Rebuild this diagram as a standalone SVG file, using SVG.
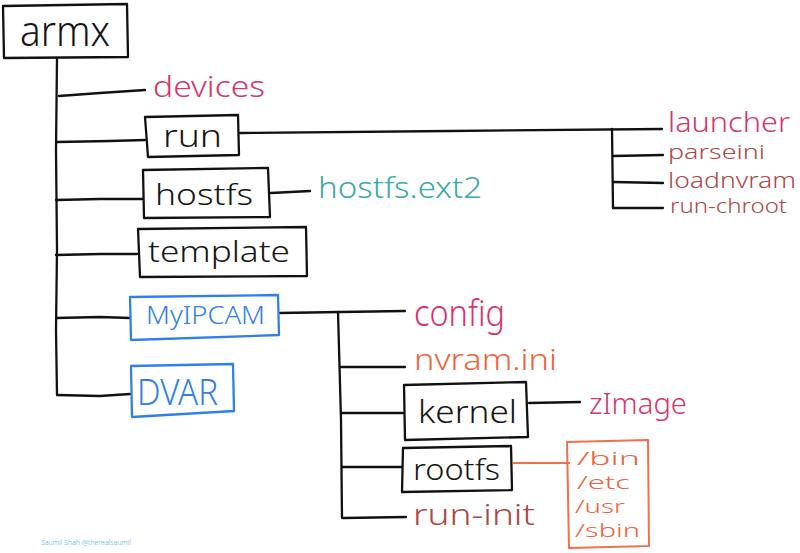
<svg xmlns="http://www.w3.org/2000/svg" width="800" height="553" viewBox="0 0 800 553">
<style>
.ln{fill:none;stroke:#111;stroke-width:2.3;stroke-linecap:round;stroke-linejoin:round}
.bx{fill:none;stroke:#111;stroke-width:2.3;stroke-linejoin:round}
.bb{fill:none;stroke:#2f7fef;stroke-width:2.3;stroke-linejoin:round}
.ob{fill:none;stroke:#f2704f;stroke-width:2;stroke-linejoin:round}
.t{font-family:"Noto Sans","Liberation Sans",sans-serif;font-weight:300}
.k{fill:#161616}
.pink{fill:#d8356a}
.brn{fill:#b04646}
.teal{fill:#3aaaa9}
.blue{fill:#2f7fef}
.orn{fill:#f2623f}
</style>
<rect width="800" height="553" fill="#fff"/>
<g id="connectors">
<path class="ln" d="M57,58 L56,150 L57,250 L56,330 L57,395"/>
<path class="ln" d="M59,96 L100,93 L145,90"/>
<path class="ln" d="M57,142 L110,141 L145,140"/>
<path class="ln" d="M56,200 L100,199 L143,199"/>
<path class="ln" d="M56,255 L100,254 L137,254"/>
<path class="ln" d="M56,318 L100,317 L130,318"/>
<path class="ln" d="M57,395 L100,396 L130,394"/>
<path class="ln" d="M240,133 L450,131 L662,129"/>
<path class="ln" d="M612,129 L613,208"/>
<path class="ln" d="M613,156 L663,155"/>
<path class="ln" d="M614,182 L663,183"/>
<path class="ln" d="M613,208 L663,208"/>
<path class="ln" d="M271,193 L310,191"/>
<path class="ln" d="M280,313 L340,312 L405,311"/>
<path class="ln" d="M338,312 L341,420 L342,518"/>
<path class="ln" d="M340,367 L405,367"/>
<path class="ln" d="M341,413 L403,413"/>
<path class="ln" d="M342,467 L402,467"/>
<path class="ln" d="M343,518 L406,517"/>
<path class="ln" d="M529,403 L580,402"/>
<path d="M513,463 L570,463" fill="none" stroke="#f2704f" stroke-width="2"/>
</g>
<g id="armx">
<path class="bx" d="M3,6 L127,4 L128,57 L4,58 Z"/>
<text class="t k" x="20" y="46" font-size="42" textLength="90" lengthAdjust="spacingAndGlyphs">armx</text>
</g>
<g id="devices">
<text class="t pink" x="153" y="97" font-size="30" textLength="112" lengthAdjust="spacingAndGlyphs">devices</text>
</g>
<g id="run">
<path class="bx" d="M145,117 L238,115 L239,155 L148,157 Z"/>
<text class="t k" x="163" y="147" font-size="31" textLength="59" lengthAdjust="spacingAndGlyphs">run</text>
</g>
<g id="hostfs">
<path class="bx" d="M143,170 L268,168 L270,217 L144,218 Z"/>
<text class="t k" x="155" y="205" font-size="30" textLength="98" lengthAdjust="spacingAndGlyphs">hostfs</text>
</g>
<g id="hostfs-ext2">
<text class="t teal" x="318" y="198" font-size="30" textLength="164" lengthAdjust="spacingAndGlyphs">hostfs.ext2</text>
</g>
<g id="template">
<path class="bx" d="M138,229 L306,227 L307,276 L140,277 Z"/>
<text class="t k" x="148" y="262" font-size="29" textLength="142" lengthAdjust="spacingAndGlyphs">template</text>
</g>
<g id="MyIPCAM">
<path class="bb" d="M130,297 L278,295 L279,335 L131,340 Z"/>
<text class="t blue" x="146" y="324" font-size="25" textLength="119" lengthAdjust="spacingAndGlyphs">MyIPCAM</text>
</g>
<g id="DVAR">
<path class="bb" d="M131,366 L233,364 L234,411 L132,417 Z"/>
<text class="t blue" x="137" y="405" font-size="37" textLength="81" lengthAdjust="spacingAndGlyphs">DVAR</text>
</g>
<g id="launcher">
<text class="t pink" x="668" y="132" font-size="27" textLength="122" lengthAdjust="spacingAndGlyphs">launcher</text>
</g>
<g id="parseini">
<text class="t brn" x="668" y="159" font-size="20" textLength="97" lengthAdjust="spacingAndGlyphs">parseini</text>
</g>
<g id="loadnvram">
<text class="t brn" x="668" y="188" font-size="21" textLength="128" lengthAdjust="spacingAndGlyphs">loadnvram</text>
</g>
<g id="run-chroot">
<text class="t brn" x="670" y="213" font-size="20" textLength="117" lengthAdjust="spacingAndGlyphs">run-chroot</text>
</g>
<g id="config">
<text class="t pink" x="414" y="326" font-size="36" textLength="91" lengthAdjust="spacingAndGlyphs">config</text>
</g>
<g id="nvram-ini">
<text class="t orn" x="414" y="370" font-size="30" textLength="143" lengthAdjust="spacingAndGlyphs">nvram.ini</text>
</g>
<g id="kernel">
<path class="bx" d="M404,385 L526,382 L528,437 L405,440 Z"/>
<text class="t k" x="418" y="423" font-size="32" textLength="99" lengthAdjust="spacingAndGlyphs">kernel</text>
</g>
<g id="zImage">
<text class="t pink" x="589" y="414" font-size="30" textLength="98" lengthAdjust="spacingAndGlyphs">zImage</text>
</g>
<g id="rootfs">
<path class="bx" d="M403,448 L511,446 L512,490 L402,492 Z"/>
<text class="t k" x="413" y="480" font-size="30" textLength="87" lengthAdjust="spacingAndGlyphs">rootfs</text>
</g>
<g id="rootfs-dirs">
<path class="ob" d="M567,442 L648,440 L649,546 L569,548 Z"/>
<text class="t orn" x="577" y="465" font-size="17.5" textLength="63" lengthAdjust="spacingAndGlyphs">/bin</text>
<text class="t orn" x="577" y="489" font-size="17.5" textLength="53" lengthAdjust="spacingAndGlyphs">/etc</text>
<text class="t orn" x="575" y="513" font-size="17.5" textLength="50" lengthAdjust="spacingAndGlyphs">/usr</text>
<text class="t orn" x="575" y="537" font-size="17.5" textLength="65" lengthAdjust="spacingAndGlyphs">/sbin</text>
</g>
<g id="run-init">
<text class="t brn" x="413" y="525" font-size="30" textLength="122" lengthAdjust="spacingAndGlyphs">run-init</text>
</g>
<g id="credit">
<text class="t" x="41" y="545" font-size="6.5" fill="#3cb6dc" textLength="90" lengthAdjust="spacingAndGlyphs">Saumil Shah @therealsaumil</text>
</g>
</svg>
